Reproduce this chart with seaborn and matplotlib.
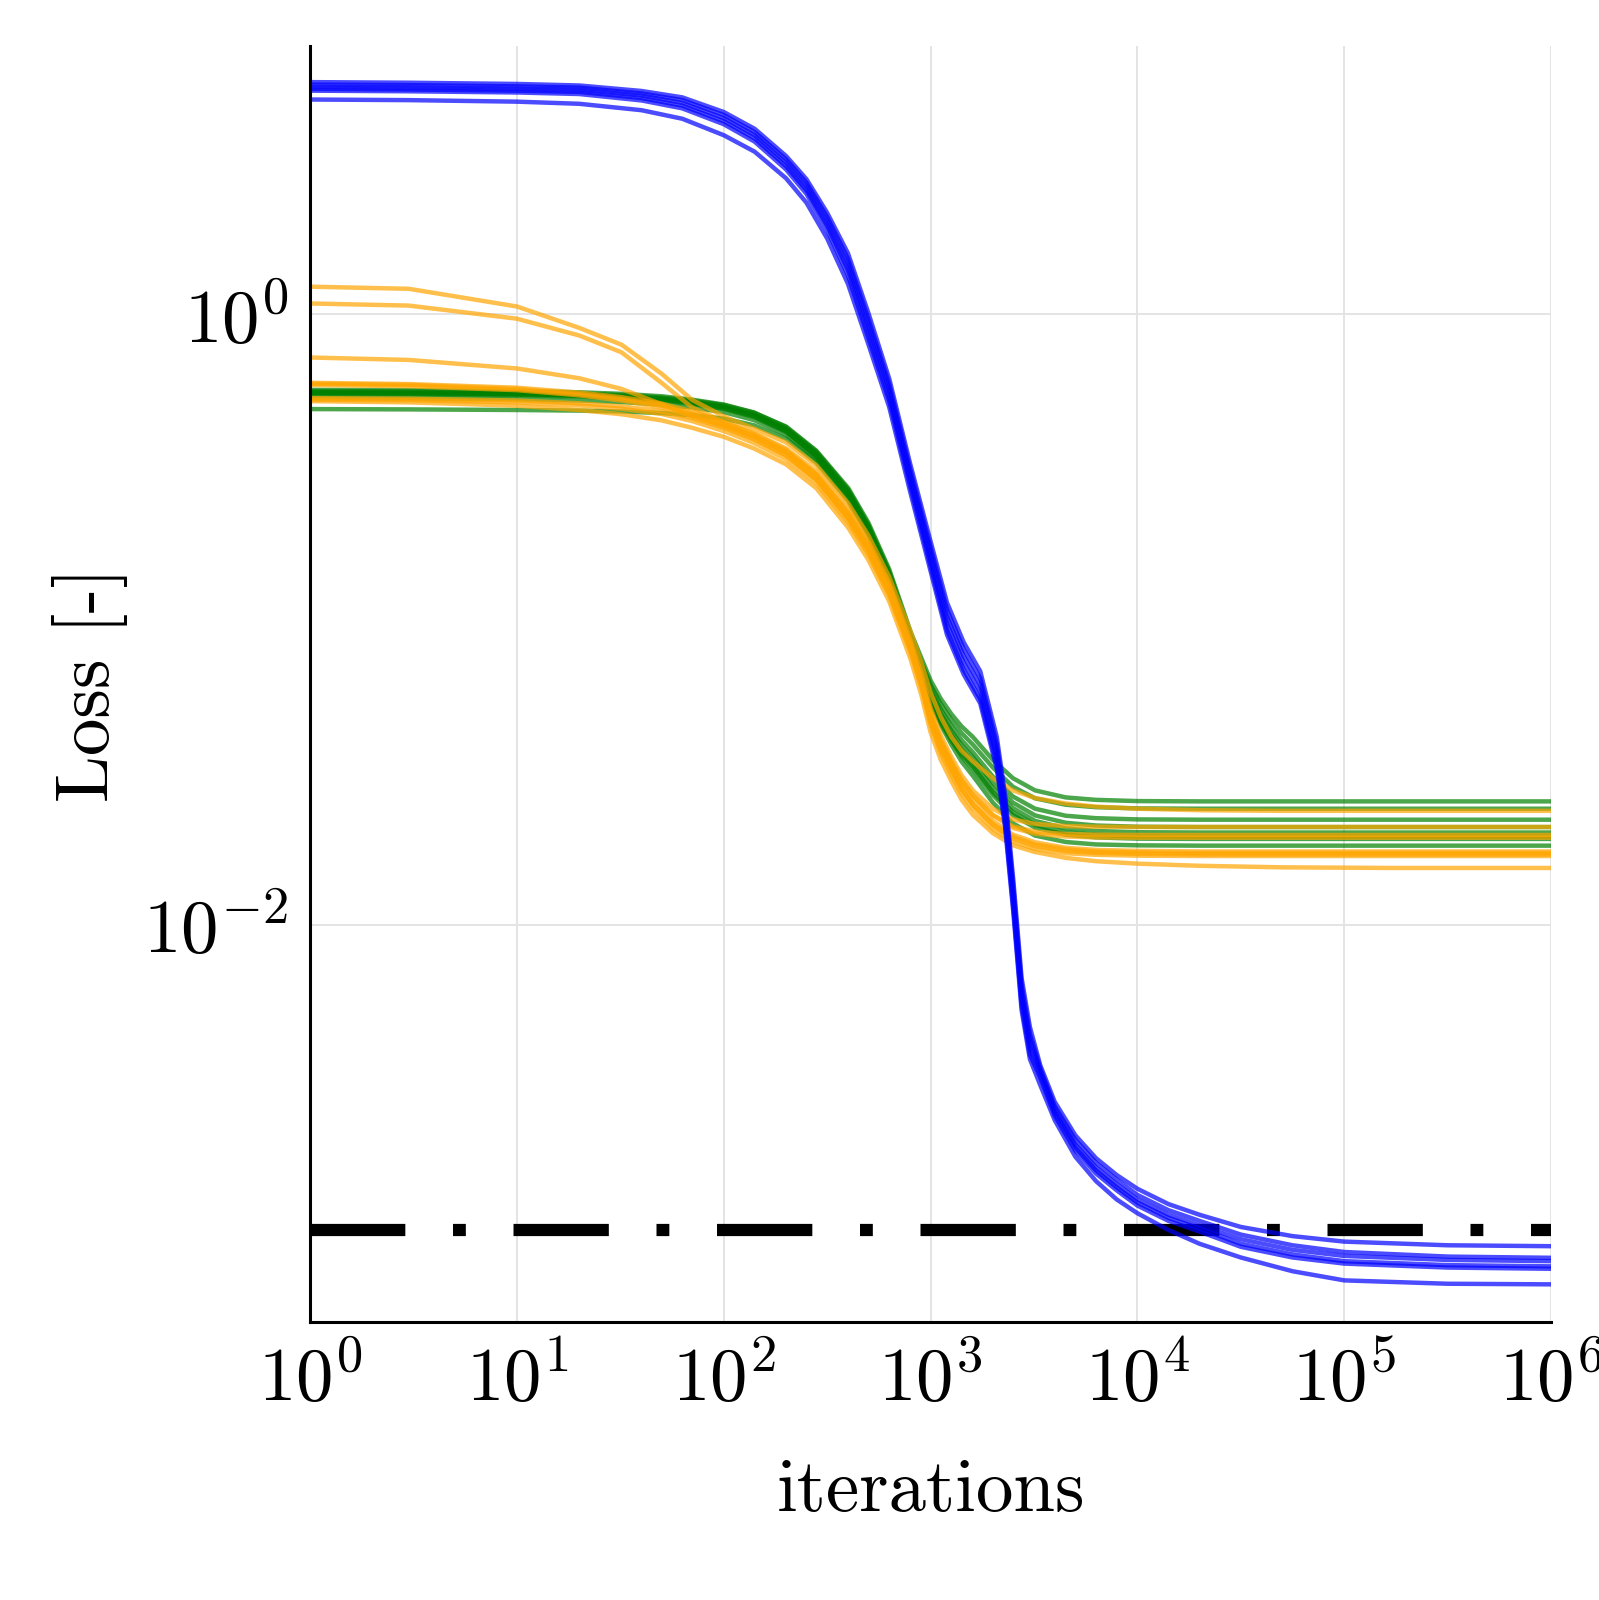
import numpy as np
import pandas as pd
import matplotlib
matplotlib.use("Agg")
import matplotlib.pyplot as plt
import seaborn as sns
from matplotlib.ticker import FixedLocator, FuncFormatter, NullLocator

# iteration grids
blue_iters = [1, 3, 10, 20, 40, 63, 100, 141, 200, 251, 316, 398, 501, 631, 794,
              1000, 1200, 1445, 1738, 2089, 2291, 2512, 2754, 3020, 3388, 3981,
              5012, 6310, 7943, 10000, 14125, 19953, 31623, 56234, 100000,
              316228, 1000000]
other_iters = [1, 3, 10, 20, 32, 50, 70, 100, 140, 200, 280, 400, 500, 630, 800,
               900, 1000, 1120, 1260, 1410, 1600, 2000, 2500, 3200, 4500, 6300,
               10000, 20000, 50000, 160000, 1000000]

# log10(loss), one list per run
blue_runs = [
    [0.760, 0.758, 0.754, 0.749, 0.731, 0.710, 0.662, 0.607, 0.518, 0.442, 0.332, 0.200, 0.002,
     -0.212, -0.487, -0.745, -0.945, -1.075, -1.170, -1.385, -1.575, -1.855, -2.175, -2.335,
     -2.460, -2.580, -2.690, -2.765, -2.820, -2.865, -2.915, -2.950, -2.990, -3.020, -3.038,
     -3.050, -3.053],
    [0.752, 0.750, 0.746, 0.742, 0.723, 0.701, 0.652, 0.596, 0.507, 0.430, 0.318, 0.182, -0.018,
     -0.230, -0.505, -0.765, -0.968, -1.098, -1.193, -1.408, -1.598, -1.878, -2.198, -2.358,
     -2.470, -2.595, -2.705, -2.780, -2.835, -2.885, -2.935, -2.970, -3.015, -3.050, -3.072,
     -3.087, -3.091],
    [0.745, 0.743, 0.739, 0.735, 0.716, 0.692, 0.642, 0.586, 0.496, 0.418, 0.304, 0.164, -0.038,
     -0.248, -0.523, -0.785, -0.990, -1.120, -1.215, -1.430, -1.620, -1.900, -2.220, -2.380,
     -2.480, -2.605, -2.720, -2.795, -2.850, -2.900, -2.950, -2.985, -3.030, -3.065, -3.085,
     -3.098, -3.102],
    [0.738, 0.736, 0.732, 0.728, 0.708, 0.683, 0.632, 0.576, 0.485, 0.406, 0.290, 0.146, -0.058,
     -0.266, -0.541, -0.805, -1.012, -1.142, -1.237, -1.452, -1.642, -1.922, -2.242, -2.402,
     -2.490, -2.615, -2.730, -2.805, -2.860, -2.910, -2.960, -2.995, -3.045, -3.080, -3.102,
     -3.115, -3.119],
    [0.732, 0.730, 0.726, 0.721, 0.700, 0.674, 0.622, 0.565, 0.474, 0.394, 0.276, 0.128, -0.078,
     -0.284, -0.559, -0.825, -1.035, -1.165, -1.260, -1.475, -1.665, -1.945, -2.265, -2.425,
     -2.500, -2.625, -2.740, -2.815, -2.870, -2.920, -2.970, -3.005, -3.055, -3.090, -3.110,
     -3.123, -3.127],
    [0.703, 0.701, 0.696, 0.689, 0.668, 0.640, 0.586, 0.532, 0.445, 0.365, 0.248, 0.100, -0.100,
     -0.305, -0.578, -0.842, -1.050, -1.180, -1.275, -1.490, -1.680, -1.960, -2.280, -2.440,
     -2.525, -2.640, -2.760, -2.840, -2.900, -2.945, -3.000, -3.045, -3.090, -3.135, -3.165,
     -3.176, -3.178],
]

green_runs = [
    [-0.252, -0.253, -0.256, -0.260, -0.265, -0.273, -0.283, -0.298, -0.323, -0.368, -0.447,
     -0.570, -0.683, -0.835, -1.040, -1.125, -1.200, -1.260, -1.310, -1.350, -1.385, -1.460,
     -1.520, -1.560, -1.583, -1.591, -1.595, -1.596, -1.596, -1.596, -1.596],
    [-0.248, -0.249, -0.252, -0.256, -0.261, -0.269, -0.280, -0.296, -0.322, -0.370, -0.450,
     -0.575, -0.690, -0.842, -1.050, -1.138, -1.215, -1.278, -1.330, -1.372, -1.410, -1.485,
     -1.548, -1.586, -1.607, -1.615, -1.619, -1.620, -1.620, -1.620, -1.620],
    [-0.256, -0.257, -0.260, -0.264, -0.269, -0.277, -0.287, -0.302, -0.328, -0.375, -0.455,
     -0.580, -0.695, -0.850, -1.060, -1.150, -1.230, -1.295, -1.350, -1.395, -1.435, -1.515,
     -1.580, -1.620, -1.643, -1.651, -1.655, -1.656, -1.656, -1.656, -1.656],
    [-0.260, -0.261, -0.264, -0.268, -0.273, -0.281, -0.292, -0.307, -0.333, -0.381, -0.462,
     -0.588, -0.703, -0.858, -1.070, -1.160, -1.240, -1.308, -1.365, -1.412, -1.452, -1.535,
     -1.600, -1.642, -1.666, -1.675, -1.679, -1.680, -1.680, -1.680, -1.680],
    [-0.262, -0.263, -0.266, -0.270, -0.275, -0.283, -0.294, -0.310, -0.337, -0.386, -0.468,
     -0.595, -0.710, -0.866, -1.078, -1.170, -1.252, -1.320, -1.378, -1.426, -1.468, -1.552,
     -1.618, -1.660, -1.684, -1.693, -1.697, -1.698, -1.698, -1.698, -1.698],
    [-0.275, -0.276, -0.279, -0.283, -0.288, -0.296, -0.306, -0.321, -0.347, -0.395, -0.476,
     -0.603, -0.718, -0.875, -1.088, -1.180, -1.262, -1.332, -1.390, -1.439, -1.481, -1.566,
     -1.632, -1.673, -1.697, -1.706, -1.710, -1.711, -1.711, -1.711, -1.711],
    [-0.311, -0.312, -0.314, -0.316, -0.319, -0.324, -0.331, -0.342, -0.364, -0.408, -0.486,
     -0.612, -0.726, -0.882, -1.094, -1.186, -1.268, -1.338, -1.397, -1.447, -1.490, -1.575,
     -1.641, -1.682, -1.705, -1.714, -1.718, -1.719, -1.719, -1.719, -1.719],
    [-0.258, -0.259, -0.262, -0.266, -0.271, -0.279, -0.290, -0.306, -0.333, -0.382, -0.465,
     -0.592, -0.708, -0.866, -1.085, -1.182, -1.270, -1.345, -1.410, -1.465, -1.512, -1.600,
     -1.668, -1.708, -1.729, -1.737, -1.740, -1.741, -1.741, -1.741, -1.741],
]

orange_runs = [
    [0.090, 0.083, 0.025, -0.045, -0.100, -0.195, -0.280, -0.335, -0.375, -0.420, -0.495,
     -0.620, -0.725, -0.860, -1.040, -1.140, -1.240, -1.320, -1.385, -1.430, -1.465, -1.520,
     -1.560, -1.585, -1.603, -1.613, -1.620, -1.625, -1.627, -1.627, -1.627],
    [0.035, 0.028, -0.015, -0.070, -0.125, -0.225, -0.305, -0.352, -0.390, -0.440, -0.515,
     -0.640, -0.745, -0.880, -1.070, -1.175, -1.290, -1.380, -1.450, -1.510, -1.560, -1.620,
     -1.655, -1.670, -1.677, -1.679, -1.680, -1.680, -1.680, -1.680, -1.680],
    [-0.142, -0.150, -0.178, -0.210, -0.245, -0.295, -0.335, -0.365, -0.400, -0.450, -0.525,
     -0.650, -0.755, -0.890, -1.080, -1.190, -1.305, -1.395, -1.465, -1.525, -1.575, -1.640,
     -1.678, -1.695, -1.703, -1.705, -1.706, -1.706, -1.706, -1.706, -1.706],
    [-0.225, -0.229, -0.241, -0.257, -0.272, -0.293, -0.318, -0.352, -0.392, -0.445, -0.525,
     -0.655, -0.760, -0.895, -1.085, -1.195, -1.312, -1.400, -1.470, -1.530, -1.578, -1.642,
     -1.683, -1.702, -1.711, -1.714, -1.715, -1.715, -1.715, -1.715, -1.715],
    [-0.228, -0.232, -0.245, -0.262, -0.278, -0.300, -0.325, -0.360, -0.400, -0.455, -0.535,
     -0.665, -0.770, -0.905, -1.090, -1.200, -1.320, -1.410, -1.480, -1.540, -1.590, -1.660,
     -1.705, -1.730, -1.748, -1.755, -1.758, -1.760, -1.760, -1.760, -1.760],
    [-0.232, -0.236, -0.249, -0.266, -0.283, -0.306, -0.332, -0.368, -0.408, -0.463, -0.543,
     -0.673, -0.778, -0.913, -1.100, -1.212, -1.335, -1.425, -1.495, -1.555, -1.605, -1.670,
     -1.712, -1.737, -1.753, -1.760, -1.763, -1.765, -1.765, -1.765, -1.765],
    [-0.275, -0.277, -0.283, -0.292, -0.302, -0.318, -0.340, -0.372, -0.410, -0.462, -0.540,
     -0.668, -0.772, -0.907, -1.095, -1.207, -1.330, -1.422, -1.494, -1.556, -1.607, -1.674,
     -1.718, -1.743, -1.759, -1.765, -1.768, -1.770, -1.770, -1.770, -1.770],
    [-0.280, -0.282, -0.289, -0.299, -0.310, -0.327, -0.350, -0.383, -0.422, -0.475, -0.553,
     -0.682, -0.786, -0.920, -1.108, -1.220, -1.345, -1.437, -1.509, -1.570, -1.620, -1.686,
     -1.728, -1.752, -1.766, -1.771, -1.774, -1.775, -1.775, -1.775, -1.775],
    [-0.285, -0.289, -0.300, -0.314, -0.328, -0.348, -0.372, -0.402, -0.440, -0.492, -0.570,
     -0.700, -0.805, -0.940, -1.130, -1.245, -1.370, -1.460, -1.530, -1.590, -1.640, -1.700,
     -1.740, -1.762, -1.781, -1.792, -1.800, -1.807, -1.812, -1.814, -1.814],
]

target_loss = 1e-3
x_ticks = [1e0, 1e1, 1e2, 1e3, 1e4, 1e5, 1e6]
y_ticks = [1e-2, 1e0]

# long table for seaborn
rows = []
for fam, iters, runs in [("green", other_iters, green_runs),
                         ("orange", other_iters, orange_runs),
                         ("blue", blue_iters, blue_runs)]:
    for k, run in enumerate(runs):
        for it, e in zip(iters, run):
            rows.append((fam, f"{fam}_{k}", it, 10.0 ** e))
df = pd.DataFrame(rows, columns=["family", "run", "iteration", "loss"])

sns.set_theme(style="white")
plt.rcParams["mathtext.fontset"] = "cm"
plt.rcParams["axes.unicode_minus"] = False

fig = plt.figure(figsize=(7.995, 8), dpi=200)
ax = fig.add_axes([0.194, 0.174, 0.776, 0.797])
ax.set_xscale("log")
ax.set_yscale("log")

ax.axhline(target_loss, color="black", lw=4.4,
           linestyle=(0, (7.8, 3.9, 1.05, 3.9)), dash_capstyle="butt", zorder=1.5)

sns.lineplot(data=df, x="iteration", y="loss", hue="family", units="run",
             estimator=None, sort=False, hue_order=["green", "orange", "blue"],
             palette={"green": "#008000", "orange": "#ffa500", "blue": "#0000ff"},
             lw=1.6, alpha=0.7, legend=False, ax=ax, zorder=2)

ax.set_xlim(1, 1e6)
ax.set_ylim(10 ** -3.30, 10 ** 0.877)
ax.xaxis.set_major_locator(FixedLocator(x_ticks))
ax.yaxis.set_major_locator(FixedLocator(y_ticks))
ax.xaxis.set_minor_locator(NullLocator())
ax.yaxis.set_minor_locator(NullLocator())
fmt = FuncFormatter(lambda v, p: r"$10^{%d}$" % round(np.log10(v)))
ax.xaxis.set_major_formatter(fmt)
ax.yaxis.set_major_formatter(fmt)

ax.grid(True, color="#e4e4e4", lw=0.7)
ax.set_axisbelow(True)
sns.despine(ax=ax)
for s in ["left", "bottom"]:
    ax.spines[s].set_color("black")
    ax.spines[s].set_linewidth(1.1)
ax.tick_params(direction="in", length=6.5, width=1.1, colors="black",
               labelsize=27, pad=8)

ax.set_xlabel("iterations", fontfamily="cmr10", fontsize=27, labelpad=15,
              color="black")
ax.set_ylabel("Loss [-]", fontfamily="cmr10", fontsize=27, labelpad=5.5,
              color="black")

fig.savefig("out.png", dpi=200)
